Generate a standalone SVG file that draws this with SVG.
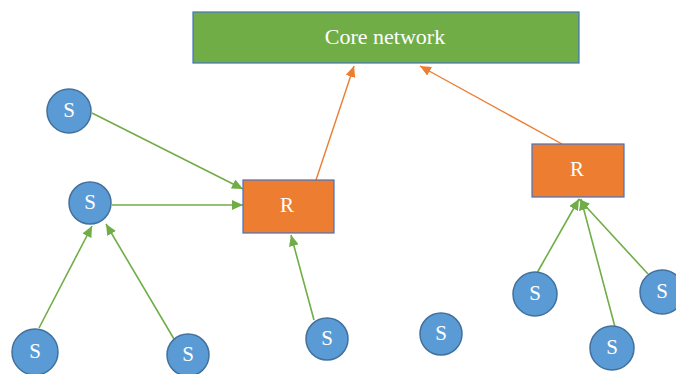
<svg xmlns="http://www.w3.org/2000/svg" width="676" height="374" viewBox="0 0 676 374">
<style>
.s circle{fill:#5B9BD5;stroke:#41719C;stroke-width:1.5}
.r rect{fill:#ED7D31;stroke:#4472C4;stroke-width:1.2}
.core rect{fill:#70AD47;stroke:#4472C4;stroke-width:1.2}
text{font-family:"Liberation Serif","Times New Roman",serif;fill:#fff;text-anchor:middle;dominant-baseline:central}
.s text,.r text{font-size:21px}
.core text{font-size:22px}
.g{stroke:#70AD47;stroke-width:1.6;fill:none;marker-end:url(#ag)}
.o{stroke:#ED7D31;stroke-width:1.4;fill:none;marker-end:url(#ao)}
</style>
<defs>
<marker id="ag" markerUnits="userSpaceOnUse" markerWidth="12" markerHeight="10" refX="11" refY="5" orient="auto"><path d="M0,0 L11,5 L0,10 Z" fill="#70AD47"/></marker>
<marker id="ao" markerUnits="userSpaceOnUse" markerWidth="12" markerHeight="10" refX="11" refY="5" orient="auto"><path d="M0,0 L11,5 L0,10 Z" fill="#ED7D31"/></marker>
</defs>
<g id="connectors">
<line class="g" x1="92" y1="113" x2="243" y2="189"/>
<line class="g" x1="112" y1="205" x2="243" y2="205"/>
<line class="g" x1="39" y1="328" x2="92" y2="226"/>
<line class="g" x1="174" y1="339" x2="106" y2="224"/>
<line class="g" x1="314" y1="320" x2="291" y2="235"/>
<line class="g" x1="537" y1="273" x2="579" y2="199"/>
<line class="g" x1="615" y1="327" x2="581" y2="199"/>
<line class="g" x1="648" y1="274" x2="579" y2="199"/>
<line class="o" x1="316" y1="180" x2="354" y2="66"/>
<line class="o" x1="562" y1="144" x2="420" y2="66"/>
</g>
<g id="core" class="core"><rect x="193" y="12" width="386" height="51"/><text x="385" y="36">Core network</text></g>
<g id="r1" class="r"><rect x="243" y="180" width="91" height="53"/><text x="287" y="205">R</text></g>
<g id="r2" class="r"><rect x="532" y="144" width="92" height="53"/><text x="577" y="169">R</text></g>
<g id="s1" class="s"><circle cx="69" cy="111" r="22"/><text x="69" y="110">S</text></g>
<g id="s2" class="s"><circle cx="90" cy="203" r="21"/><text x="90" y="202">S</text></g>
<g id="s3" class="s"><circle cx="35" cy="352" r="23"/><text x="35" y="351">S</text></g>
<g id="s4" class="s"><circle cx="188" cy="355" r="21"/><text x="188" y="354">S</text></g>
<g id="s5" class="s"><circle cx="327" cy="339" r="21"/><text x="327" y="338">S</text></g>
<g id="s6" class="s"><circle cx="441" cy="334" r="21"/><text x="441" y="333">S</text></g>
<g id="s7" class="s"><circle cx="535" cy="294" r="22"/><text x="535" y="293">S</text></g>
<g id="s8" class="s"><circle cx="612" cy="348" r="22"/><text x="612" y="347">S</text></g>
<g id="s9" class="s"><circle cx="662" cy="292" r="22"/><text x="662" y="291">S</text></g>
</svg>
